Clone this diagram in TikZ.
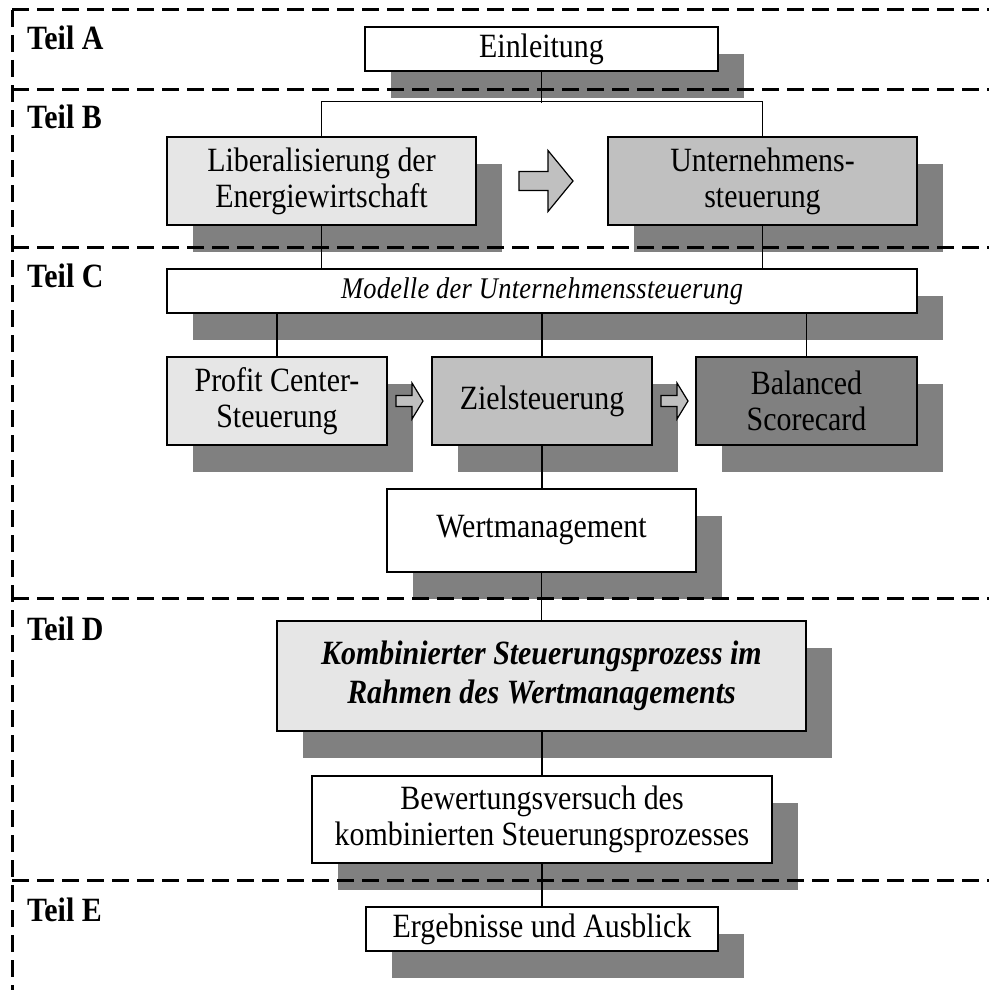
\documentclass[tikz,border=0pt]{standalone}
\usepackage{fontspec}
\setmainfont{Liberation Serif}[FakeStretch=0.88]
\newfontfamily\modelfont{Liberation Serif}[FakeStretch=0.88, LetterSpace=1]
\usetikzlibrary{shadows}

\definecolor{lightfill}{HTML}{E6E6E6}
\definecolor{midfill}{HTML}{C0C0C0}
\definecolor{darkfill}{HTML}{808080}

\tikzset{
  box/.style={draw=black, line width=1.2pt, fill=white, inner sep=0pt,
    align=center, font=\fontsize{34}{36}\selectfont,
    drop shadow={shadow xshift=26pt, shadow yshift=-27pt, fill=darkfill, opacity=1}},
  part/.style={anchor=base west, inner sep=0pt, font=\fontsize{34}{36}\selectfont\bfseries},
  link/.style={draw=black, line width=1.2pt},
  boldlink/.style={draw=black, line width=2pt},
  divider/.style={draw=black, line width=3pt, dash pattern=on 17pt off 8pt},
  blockarrow/.style={draw=black, line width=1.2pt, fill=midfill, line join=miter},
  bigarrow/.pic={\path[blockarrow] (0,-9.5) -- (29,-9.5) -- (29,-30.5) -- (54,0)
      -- (29,30.5) -- (29,9.5) -- (0,9.5) -- cycle;},
  smallarrow/.pic={\path[blockarrow] (0,-5.5) -- (16,-5.5) -- (16,-18) -- (27,0)
      -- (16,18) -- (16,5.5) -- (0,5.5) -- cycle;}
}

\begin{document}
\begin{tikzpicture}[x=1pt, y=-1pt]
\useasboundingbox (0,0) rectangle (989,990);

% part labels
\node[part] (tA) at (27,50)  {Teil A};
\node[part] (tB) at (27,128) {Teil B};
\node[part] (tC) at (27,287) {Teil C};
\node[part] (tD) at (27,640) {Teil D};
\node[part] (tE) at (27,921) {Teil E};

% boxes
\node[box, minimum width=353pt, minimum height=44pt] (ein) at (541.5,49) {Einleitung};
\node[box, fill=lightfill, minimum width=309pt, minimum height=88pt] (lib) at (321.5,181)
  {Liberalisierung der\\Energiewirtschaft};
\node[box, fill=midfill, minimum width=309pt, minimum height=88pt] (unt) at (762.5,181)
  {Unternehmens-\\steuerung};
\node[box, minimum width=750pt, minimum height=44pt,
      font=\fontsize{30}{32}\modelfont\itshape] (mod) at (542,291)
  {Modelle der Unternehmenssteuerung};
\node[box, fill=lightfill, minimum width=220pt, minimum height=88pt] (pro) at (277,401)
  {Profit Center-\\Steuerung};
\node[box, fill=midfill, minimum width=220pt, minimum height=88pt] (zie) at (542,401)
  {Zielsteuerung};
\node[box, fill=darkfill, minimum width=221pt, minimum height=88pt] (bal) at (806.5,401)
  {Balanced\\Scorecard};
\node[box, minimum width=309pt, minimum height=83pt] (wer) at (541.5,530.5)
  {Wertmanagement};
\node[box, fill=lightfill, minimum width=529pt, minimum height=110pt,
      font=\fontsize{34}{39}\selectfont\bfseries\itshape] (kom) at (541.5,676)
  {Kombinierter Steuerungsprozess im\\Rahmen des Wertmanagements};
\node[box, minimum width=460pt, minimum height=87pt] (bew) at (542,819.5)
  {Bewertungsversuch des\\kombinierten Steuerungsprozesses};
\node[box, minimum width=352pt, minimum height=44pt] (erg) at (542,929)
  {Ergebnisse und Ausblick};

% block arrows between the boxes
\pic at (519,181) {bigarrow};
\pic at (396,401) {smallarrow};
\pic at (661,401) {smallarrow};

% connectors
\draw[link] (ein.south) -- ++(0,31);
\draw[link] (lib.north) -- ++(0,-35) -| (unt.north);
\draw[link] (lib.south) -- (lib.south |- mod.north);
\draw[link] (unt.south) -- (unt.south |- mod.north);
\draw[link] (pro.north |- mod.south) -- (pro.north);
\draw[link] (mod.south) -- (zie.north);
\draw[link] (bal.north |- mod.south) -- (bal.north);
\draw[link] (zie.south) -- (zie.south |- wer.north);
\draw[link] (wer.south) -- (wer.south |- kom.north);
\draw[boldlink] (kom.south) -- (kom.south |- bew.north);
\draw[boldlink] (bew.south) -- (erg.north);

% dashed section frame
\draw[divider] (12,10) -- (989,10);
\draw[divider] (12,89) -- (989,89);
\draw[divider] (12,247) -- (989,247);
\draw[divider] (12,598) -- (989,598);
\draw[divider] (12,880) -- (989,880);
\draw[divider] (12,10) -- (12,990);
\end{tikzpicture}
\end{document}
